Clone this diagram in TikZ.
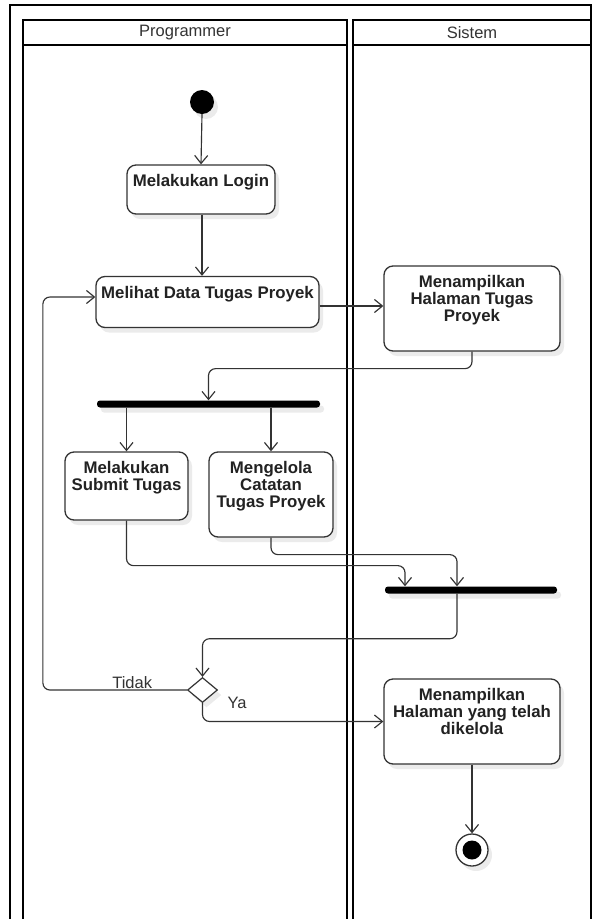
\documentclass[tikz,border=0pt]{standalone}
\usepackage{fontspec}
\setmainfont{Liberation Sans}
\usetikzlibrary{arrows.meta,shapes.geometric,shadows,calc}
\definecolor{ink}{HTML}{222222}
\definecolor{edge}{HTML}{333333}
\begin{document}
\begin{tikzpicture}[x=1pt,y=-1pt,
  frame/.style={line width=2.4pt, black},
  lanehead/.style={font=\fontsize{16.5}{18}\selectfont, text=edge},
  shad/.style={drop shadow={shadow xshift=4pt, shadow yshift=-5pt, fill=black, opacity=0.08}},
  act/.style={draw=edge, line width=1.3pt, rounded corners=9pt, fill=white, shad, inner sep=0pt},
  lbl/.style={anchor=north, yshift=-10pt, inner sep=0pt, align=center, text=ink,
              font=\bfseries\fontsize{16.8}{16.8}\selectfont},
  bar/.style={fill=black, rounded corners=3pt, minimum height=7pt, inner sep=0pt, shad},
  flow/.style={draw=edge, line width=1.15pt, rounded corners=7pt, -{Straight Barb[length=8pt,width=13pt]}},
  lab/.style={font=\fontsize{16.5}{18}\selectfont, text=edge, inner sep=1pt}
]
\useasboundingbox (0,0) rectangle (592,919);
\fill[white] (0,0) rectangle (592,919);

% frame and lanes
\draw[frame] (10,919) -- (10,5) -- (591,5) -- (591,919);
\draw[frame] (23,919) -- (23,20) -- (347,20) -- (347,919);
\draw[frame] (23,45) -- (347,45);
\draw[frame] (353,919) -- (353,20) -- (591,20);
\draw[frame] (353,45) -- (591,45);
\node[lanehead] (hprog) at (185,32.5) {Programmer};
\node[lanehead] (hsis) at (472,32.5) {Sistem};

% nodes
\node[circle, fill=black, minimum size=24pt, inner sep=0pt, shad] (start) at (202,102) {};
\node[act, minimum width=148pt, minimum height=49pt, label={[lbl]north:Melakukan Login}] (login) at (201,189.5) {};
\node[act, minimum width=223pt, minimum height=51pt, label={[lbl]north:Melihat Data Tugas Proyek}] (lihat) at (207.5,302) {};
\node[act, minimum width=176pt, minimum height=85pt, label={[lbl]north:Menampilkan\\Halaman Tugas\\Proyek}] (tampil) at (472,308.5) {};
\node[bar, minimum width=223pt] (fork) at (208.5,404) {};
\node[act, minimum width=123pt, minimum height=68pt, label={[lbl]north:Melakukan\\Submit Tugas}] (submit) at (126.5,486) {};
\node[act, minimum width=124pt, minimum height=85pt, label={[lbl]north:Mengelola\\Catatan\\Tugas Proyek}] (kelola) at (271,494.5) {};
\node[bar, minimum width=172pt] (join) at (471,590) {};
\node[diamond, draw=edge, line width=1.2pt, fill=white, minimum width=30pt, minimum height=25pt, inner sep=0pt, shad] (dec) at (202.5,690) {};
\node[act, minimum width=176pt, minimum height=85pt, label={[lbl]north:Menampilkan\\Halaman yang telah\\dikelola}] (hasil) at (472,721.5) {};
\node[circle, draw=edge, line width=1.3pt, fill=white, minimum size=32pt, inner sep=0pt, shad] (end) at (472,850) {};
\node[circle, fill=black, minimum size=19pt, inner sep=0pt] (endin) at (end.center) {};

% connectors
\draw[flow] (start.south) -- (login.north);
\draw[flow] ([xshift=1pt]login.south) -- ([xshift=1pt]login.south |- lihat.north);
\draw[flow] ([yshift=-4pt]lihat.east) -- ([yshift=-4pt]lihat.east -| tampil.west);
\draw[flow] (tampil.south) -- ++(0,17) -| (fork.north);
\draw[flow] (submit.north |- fork.south) -- (submit.north);
\draw[flow] (kelola.north |- fork.south) -- (kelola.north);
\draw[flow] (submit.south) -- ++(0,45) -| ([xshift=-66pt]join.north);
\draw[flow] (kelola.south) -- ++(0,17) -| ([xshift=-14pt]join.north);
\draw[flow] ([xshift=-14pt]join.south) -- ++(0,45) -| (dec.north);
\draw[flow] (dec.west) -- node[lab, above, pos=0.38] (tidak) {Tidak} ++(-144,0) |- ([yshift=5pt]lihat.west);
\draw[flow] (dec.south) |- (hasil.west);
\node[lab] (ya) at (237,703) {Ya};
\draw[flow] (hasil.south) -- (end.north);
\end{tikzpicture}
\end{document}
